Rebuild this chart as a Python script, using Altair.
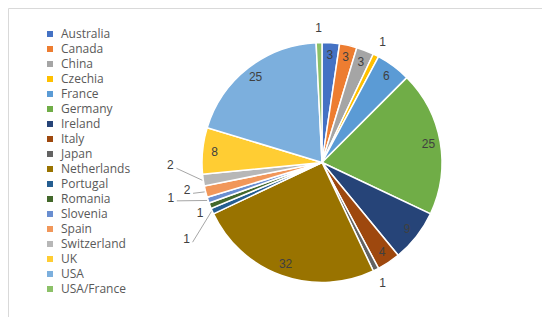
import altair as alt
import pandas as pd

countries = ["Australia", "Canada", "China", "Czechia", "France", "Germany",
             "Ireland", "Italy", "Japan", "Netherlands", "Portugal", "Romania",
             "Slovenia", "Spain", "Switzerland", "UK", "USA", "USA/France"]
counts = [3, 3, 3, 1, 6, 25, 9, 4, 1, 32, 1, 1, 1, 2, 2, 8, 25, 1]
colors = ["#4472C4", "#ED7D31", "#A5A5A5", "#FFC000", "#5B9BD5", "#70AD47",
          "#264478", "#9E480E", "#636363", "#997300", "#255E91", "#43682B",
          "#698ED0", "#F1975A", "#B7B7B7", "#FFCD33", "#7CAFDD", "#8CC168"]

# layout only: nudges (px) for crowded outside labels and which get leader lines
nudge_x = {"Switzerland": -18, "Spain": -4, "Slovenia": -23, "Romania": 4, "Portugal": -12}
nudge_y = {"Switzerland": -17, "Spain": -5, "Slovenia": -7, "Romania": 2, "Portugal": 22}
leader = ["Switzerland", "Spain", "Slovenia", "Portugal"]

CX, CY, R = 314, 154.5, 120
R_IN, R_OUT = 108, 135

df = pd.DataFrame({"country": countries, "n": counts, "idx": list(range(len(countries)))})
df["nx"] = [nudge_x.get(c, 0) for c in countries]
df["ny"] = [nudge_y.get(c, 0) for c in countries]
df["lead"] = [c in leader for c in countries]

base = alt.Chart(df)

pie = base.mark_arc(outerRadius=R, stroke="white", strokeWidth=1.5).encode(
    theta=alt.Theta("n:Q", stack=True),
    order=alt.Order("idx:Q"),
    color=alt.Color(
        "country:N",
        scale=alt.Scale(domain=countries, range=colors),
        legend=alt.Legend(
            title=None, orient="none", legendX=36, legendY=20,
            symbolType="square", symbolSize=36, symbolStrokeWidth=0,
            labelFont="Open Sans", labelFontSize=12, labelColor="#595959",
            rowPadding=3, padding=0, labelOffset=5,
        ),
    ),
    x=alt.value(CX),
    y=alt.value(CY),
)

pos = base.transform_window(
    cum="sum(n)", sort=[alt.SortField("idx", order="ascending")], frame=[None, 0]
).transform_joinaggregate(
    total="sum(n)"
).transform_calculate(
    mid="(datum.cum - datum.n / 2) / datum.total * 2 * PI",
).transform_calculate(
    r=f"datum.n <= 2 ? {R_OUT} : {R_IN}",
).transform_calculate(
    lx=f"{CX} + datum.r * sin(datum.mid) + datum.nx",
    ly=f"{CY} - datum.r * cos(datum.mid) + datum.ny",
    ex=f"{CX} + {R + 1} * sin(datum.mid)",
    ey=f"{CY} - {R + 1} * cos(datum.mid)",
)

labels = pos.mark_text(font="Liberation Sans", fontSize=12, color="#404040",
                       baseline="middle", align="center").encode(
    x=alt.X("lx:Q", scale=None),
    y=alt.Y("ly:Q", scale=None),
    text="n:Q",
)

leaders = pos.transform_filter("datum.lead").transform_calculate(
    sx="datum.lx + 6", sy="datum.ly + 3"
).mark_rule(color="#a6a6a6", strokeWidth=1).encode(
    x=alt.X("sx:Q", scale=None),
    y=alt.Y("sy:Q", scale=None),
    x2="ex:Q",
    y2="ey:Q",
)

chart = alt.layer(pie, leaders, labels).properties(
    width=534, height=309,
    autosize=alt.AutoSizeParams(type="none"),
    padding=0,
).configure_view(stroke="#d9d9d9")

chart.save("out.html", embed_options={"renderer": "svg", "actions": False})
